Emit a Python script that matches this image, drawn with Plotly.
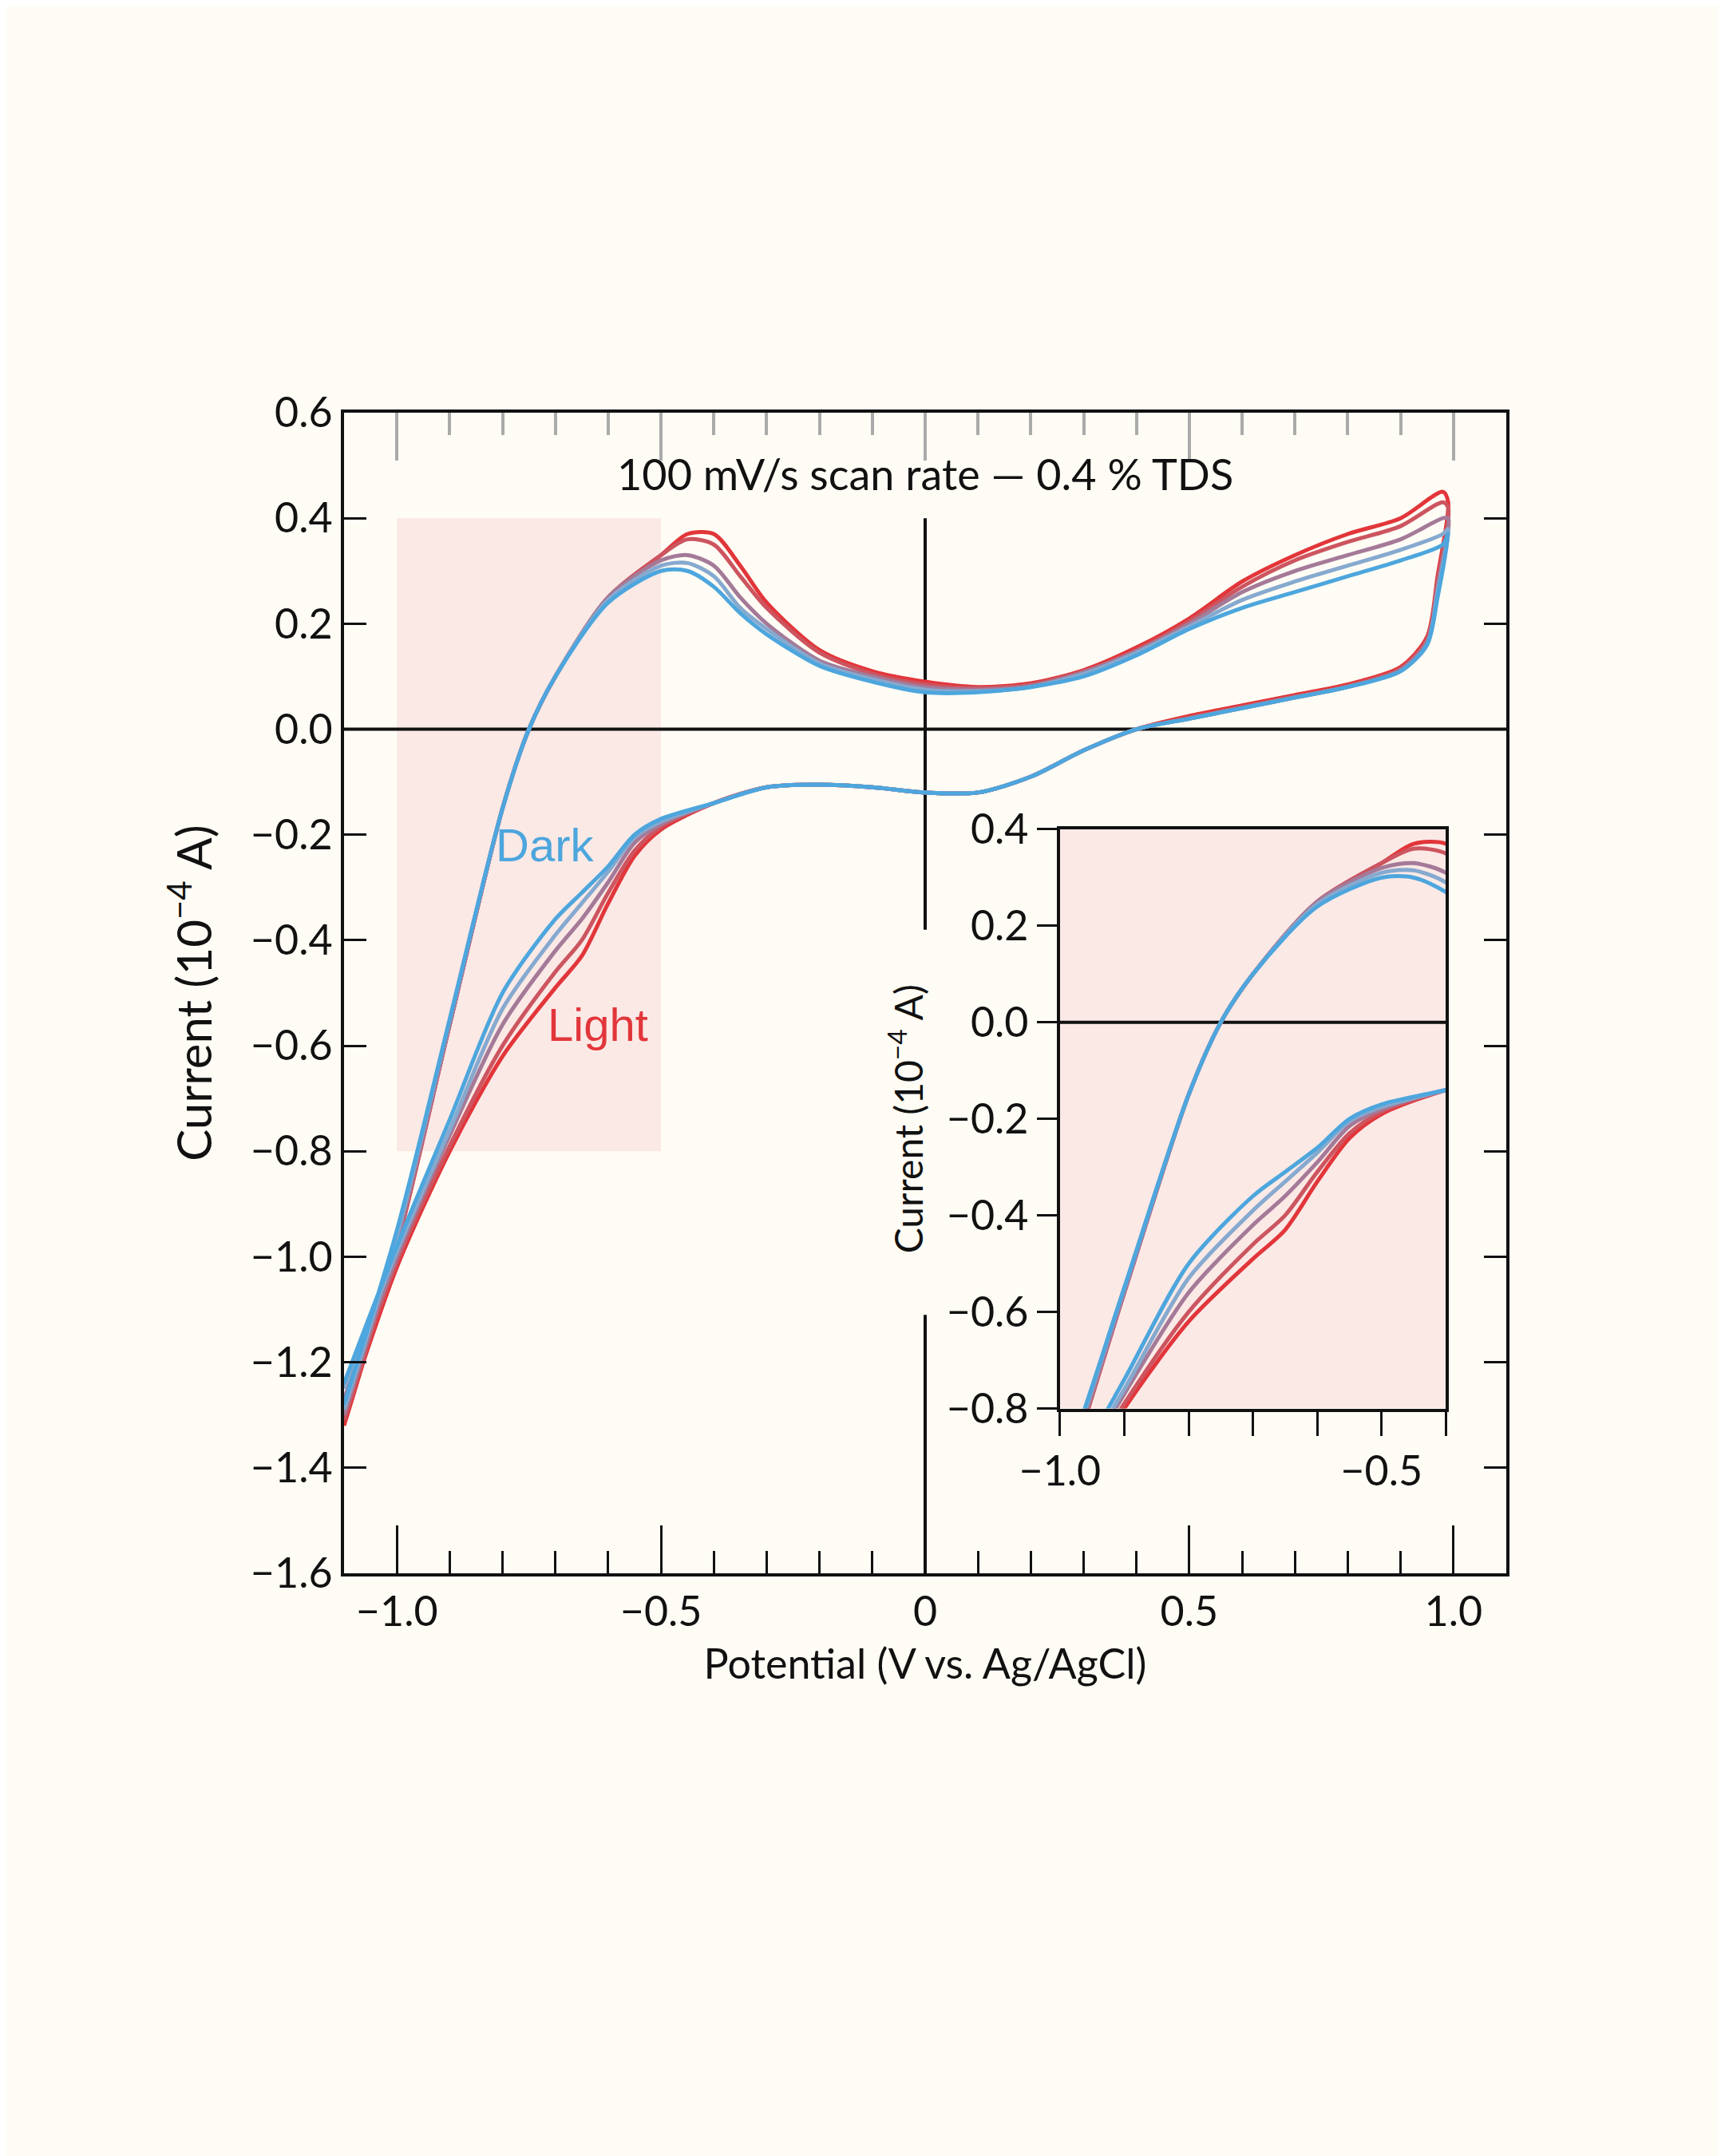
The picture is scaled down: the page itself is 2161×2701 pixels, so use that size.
import plotly.graph_objects as go

# shared potentials: forward (upper) branch then reverse (lower) branch
x_fwd = [-1.1, -1.0, -0.9, -0.8, -0.75, -0.7, -0.6, -0.5, -0.45, -0.4, -0.35, -0.3, -0.2, -0.1, 0.0, 0.1, 0.2, 0.3, 0.4, 0.5, 0.6, 0.7, 0.8, 0.9, 0.98, 0.99]
x_rev = [0.97, 0.95, 0.9, 0.8, 0.7, 0.6, 0.5, 0.4, 0.3, 0.2, 0.1, 0.0, -0.1, -0.2, -0.3, -0.4, -0.5, -0.55, -0.6, -0.65, -0.7, -0.8, -0.9, -1.0, -1.1]

# curves from Dark (blue) to Light (red)
y_fwd_c1 = [-1.28, -0.95, -0.55, -0.15, 0.0, 0.1, 0.24, 0.30, 0.30, 0.27, 0.22, 0.18, 0.12, 0.09, 0.07, 0.07, 0.08, 0.10, 0.14, 0.19, 0.23, 0.26, 0.29, 0.32, 0.35, 0.37]
y_fwd_c2 = [-1.29, -0.96, -0.55, -0.15, 0.0, 0.1, 0.245, 0.31, 0.315, 0.29, 0.23, 0.19, 0.125, 0.095, 0.075, 0.072, 0.08, 0.105, 0.145, 0.195, 0.245, 0.28, 0.31, 0.34, 0.37, 0.38]
y_fwd_c3 = [-1.30, -0.97, -0.56, -0.15, 0.0, 0.1, 0.25, 0.32, 0.33, 0.31, 0.25, 0.20, 0.13, 0.10, 0.08, 0.075, 0.082, 0.108, 0.148, 0.20, 0.26, 0.30, 0.33, 0.36, 0.40, 0.40]
y_fwd_c4 = [-1.31, -0.98, -0.56, -0.15, 0.0, 0.1, 0.25, 0.33, 0.36, 0.35, 0.29, 0.23, 0.145, 0.105, 0.085, 0.078, 0.085, 0.11, 0.15, 0.205, 0.27, 0.32, 0.355, 0.385, 0.43, 0.42]
y_fwd_c5 = [-1.32, -0.98, -0.56, -0.15, 0.0, 0.1, 0.25, 0.33, 0.37, 0.37, 0.31, 0.24, 0.15, 0.11, 0.09, 0.08, 0.087, 0.112, 0.155, 0.21, 0.28, 0.33, 0.37, 0.40, 0.45, 0.43]

y_rev_c1 = [0.25, 0.16, 0.11, 0.08, 0.06, 0.04, 0.02, 0.0, -0.04, -0.09, -0.12, -0.12, -0.11, -0.105, -0.11, -0.14, -0.17, -0.20, -0.26, -0.31, -0.36, -0.50, -0.74, -0.98, -1.24]
y_rev_c2 = [0.26, 0.16, 0.11, 0.08, 0.06, 0.04, 0.02, 0.0, -0.04, -0.09, -0.12, -0.12, -0.11, -0.105, -0.11, -0.14, -0.175, -0.205, -0.27, -0.33, -0.39, -0.53, -0.76, -0.99, -1.25]
y_rev_c3 = [0.27, 0.165, 0.112, 0.08, 0.06, 0.04, 0.02, 0.0, -0.04, -0.09, -0.12, -0.12, -0.11, -0.105, -0.11, -0.14, -0.18, -0.215, -0.29, -0.36, -0.42, -0.56, -0.77, -1.0, -1.27]
y_rev_c4 = [0.28, 0.17, 0.115, 0.082, 0.062, 0.042, 0.022, 0.0, -0.04, -0.09, -0.12, -0.12, -0.11, -0.105, -0.11, -0.14, -0.185, -0.23, -0.31, -0.40, -0.46, -0.60, -0.79, -1.01, -1.29]
y_rev_c5 = [0.29, 0.175, 0.118, 0.085, 0.065, 0.045, 0.025, 0.0, -0.04, -0.09, -0.12, -0.12, -0.11, -0.105, -0.11, -0.14, -0.19, -0.24, -0.33, -0.43, -0.49, -0.62, -0.80, -1.02, -1.31]

curves_fwd = [y_fwd_c1, y_fwd_c2, y_fwd_c3, y_fwd_c4, y_fwd_c5]
curves_rev = [y_rev_c1, y_rev_c2, y_rev_c3, y_rev_c4, y_rev_c5]
colors = ["#4da6dd", "#86a9cf", "#a47a98", "#cc5560", "#e2363a"]
order = [4, 3, 2, 1, 0]  # draw red first, blue on top

x_ticks = [-1.0, -0.5, 0.0, 0.5, 1.0]
x_ticktext = ["−1.0", "−0.5", "0", "0.5", "1.0"]

BG = "#fffcf5"
FONT = "Lato"
fig = go.Figure()
for i in order:
    xs = x_fwd + x_rev
    ys = curves_fwd[i] + curves_rev[i]
    for ax in ("x", "x2"):
        fig.add_trace(go.Scatter(x=xs, y=ys, mode="lines", line=dict(color=colors[i], width=5, shape="spline", smoothing=0.8),
                                 xaxis=ax, yaxis="y" if ax == "x" else "y2", showlegend=False, hoverinfo="skip"))

tickfont = dict(family=FONT, size=52, color="#111")
fig.update_layout(
    width=2161, height=2701, paper_bgcolor=BG, plot_bgcolor=BG,
    margin=dict(l=423, r=282, t=509, b=738),
    font=dict(family=FONT, color="#111"),
    xaxis=dict(domain=[0, 1], range=[-1.1, 1.1], tickvals=x_ticks, ticktext=x_ticktext, ticks="inside", ticklen=60,
               tickwidth=3, tickcolor="#111", tickfont=tickfont, showgrid=False, zeroline=False, showline=True,
               linewidth=4, linecolor="#111", mirror=False,
               minor=dict(dtick=0.1, ticks="inside", ticklen=28, tickwidth=3, tickcolor="#111"),
               title=dict(text="Potential (V vs. Ag/AgCl)", font=dict(family=FONT, size=52), standoff=20)),
    yaxis=dict(domain=[0, 1], range=[-1.6, 0.6], dtick=0.2, tickformat=".1f", ticks="inside", ticklen=28, tickwidth=3,
               tickcolor="#111", tickfont=tickfont, showgrid=False, zeroline=False, showline=True, linewidth=4,
               linecolor="#111", mirror="ticks",
               title=dict(text="Current (10<sup>−4</sup> A)", font=dict(family=FONT, size=60), standoff=30)),
    xaxis3=dict(overlaying="x", side="top", range=[-1.1, 1.1], tickvals=x_ticks, showticklabels=False, ticks="inside",
                ticklen=60, tickwidth=4, tickcolor="#aaa", showgrid=False, zeroline=False, showline=True, linewidth=4,
                linecolor="#111", minor=dict(dtick=0.1, ticks="inside", ticklen=28, tickwidth=4, tickcolor="#aaa")),
    xaxis2=dict(domain=[0.616, 0.948], anchor="y2", range=[-1.0, -0.4], tickvals=[-1.0, -0.5], ticktext=["−1.0", "−0.5"],
                ticks="outside", ticklen=30, tickwidth=3, tickcolor="#111", tickfont=tickfont, showgrid=False,
                zeroline=False, showline=True, linewidth=4, linecolor="#111", mirror=True,
                minor=dict(dtick=0.1, ticks="outside", ticklen=30, tickwidth=3, tickcolor="#111")),
    yaxis2=dict(domain=[0.142, 0.641], anchor="x2", range=[-0.8, 0.4], dtick=0.2, tickformat=".1f", ticks="outside",
                ticklen=25, tickwidth=3, tickcolor="#111", tickfont=tickfont, showgrid=False, zeroline=False,
                showline=True, linewidth=4, linecolor="#111", mirror=True,
                title=dict(text="Current (10<sup>−4</sup> A)", font=dict(family=FONT, size=48), standoff=15)),
)
# dummy trace to show xaxis3
fig.add_trace(go.Scatter(x=[-1.1], y=[-1.6], xaxis="x3", mode="markers", marker=dict(opacity=0), showlegend=False, hoverinfo="skip"))

fig.add_shape(type="rect", xref="x", yref="y", x0=-1.0, x1=-0.5, y0=-0.8, y1=0.4, fillcolor="#fbe9e6", line_width=0, layer="below")
fig.add_shape(type="rect", xref="x2", yref="y2", x0=-1.0, x1=-0.4, y0=-0.8, y1=0.4, fillcolor="#fbe9e6", line_width=0, layer="below")
fig.add_shape(type="line", xref="x", yref="y", x0=-1.1, x1=1.1, y0=0, y1=0, line=dict(color="#111", width=4), layer="below")
fig.add_shape(type="line", xref="x", yref="y", x0=0, x1=0, y0=0.4, y1=-0.38, line=dict(color="#111", width=4), layer="below")
fig.add_shape(type="line", xref="x", yref="y", x0=0, x1=0, y0=-1.11, y1=-1.6, line=dict(color="#111", width=4), layer="below")
fig.add_shape(type="line", xref="x2", yref="y2", x0=-1.0, x1=-0.4, y0=0, y1=0, line=dict(color="#111", width=4), layer="below")

fig.add_annotation(x=0, y=0.485, xref="x", yref="y", text="100 mV/s scan rate — 0.4 % TDS", showarrow=False,
                   font=dict(family=FONT, size=54, color="#111"))
fig.add_annotation(x=-0.72, y=-0.22, xref="x", yref="y", text="Dark", showarrow=False,
                   font=dict(family="Liberation Sans", size=58, color="#4da6dd"))
fig.add_annotation(x=-0.62, y=-0.56, xref="x", yref="y", text="Light", showarrow=False,
                   font=dict(family="Liberation Sans", size=58, color="#e2363a"))

fig.write_html("out.html")
